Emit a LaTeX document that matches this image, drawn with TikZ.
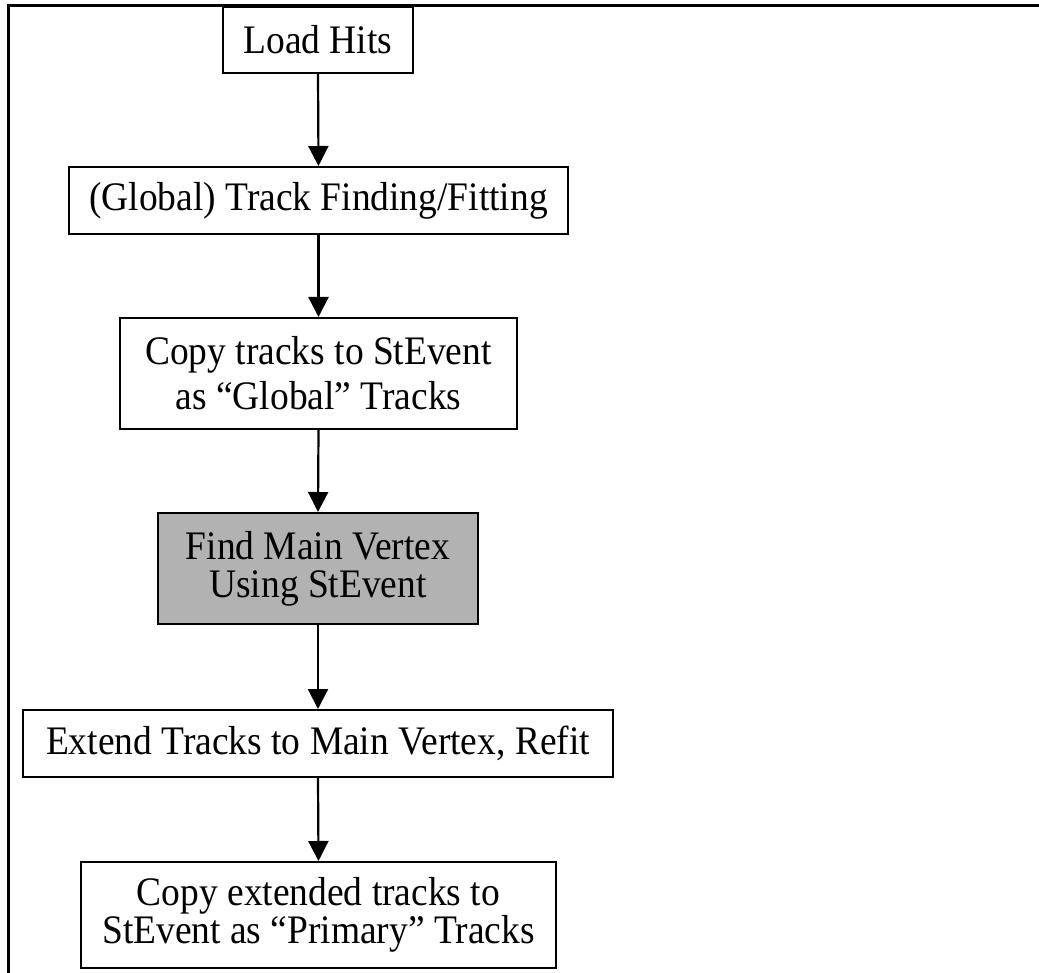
\documentclass[tikz,border=0pt]{standalone}
\usepackage{fontspec}
\setmainfont[FakeStretch=0.925]{Liberation Serif}
\usetikzlibrary{arrows.meta}
\definecolor{stepgray}{RGB}{178,178,178}
\begin{document}
\begin{tikzpicture}[x=1pt,y=-1pt,
  stepbox/.style={draw=black, line width=2pt, fill=white, inner sep=0pt,
    align=center, font=\fontsize{40.5}{45}\selectfont},
  flow/.style={line width=2.2pt, -{Triangle[length=20pt,width=20pt]}},
  framing/.style={line width=3pt}]
\useasboundingbox (0,0) rectangle (1039,973);
\clip (0,0) rectangle (1039,973);

% outer frame, open to the right and bottom
\draw[framing] (8,1000) -- (8,6) -- (1060,6);

% processing steps
\node[stepbox, minimum width=190pt, minimum height=66pt] (load) at (318,40) {Load Hits};
\node[stepbox, minimum width=499pt, minimum height=67pt] (global) at (318.5,200.5)
  {(Global) Track Finding/Fitting};
\node[stepbox, minimum width=397pt, minimum height=111pt] (copyg) at (318.5,373.5)
  {Copy tracks to StEvent\\as “Global” Tracks};
\node[stepbox, fill=stepgray, minimum width=320pt, minimum height=111pt,
  font=\fontsize{40.5}{38}\selectfont] (vertex) at (318,568.5)
  {Find Main Vertex\\Using StEvent};
\node[stepbox, minimum width=590pt, minimum height=67pt] (extend) at (318,743.5)
  {Extend Tracks to Main Vertex, Refit};
\node[stepbox, minimum width=475pt, minimum height=106pt,
  font=\fontsize{40.5}{38}\selectfont] (copyp) at (318.5,915)
  {Copy extended tracks to\\StEvent as “Primary” Tracks};

% flow arrows
\draw[flow] (load.south) -- (global.north);
\draw[flow] (global.south) -- (copyg.north);
\draw[flow] (copyg.south) -- (vertex.north);
\draw[flow] (vertex.south) -- (extend.north);
\draw[flow] (extend.south) -- (copyp.north);
\end{tikzpicture}
\end{document}
